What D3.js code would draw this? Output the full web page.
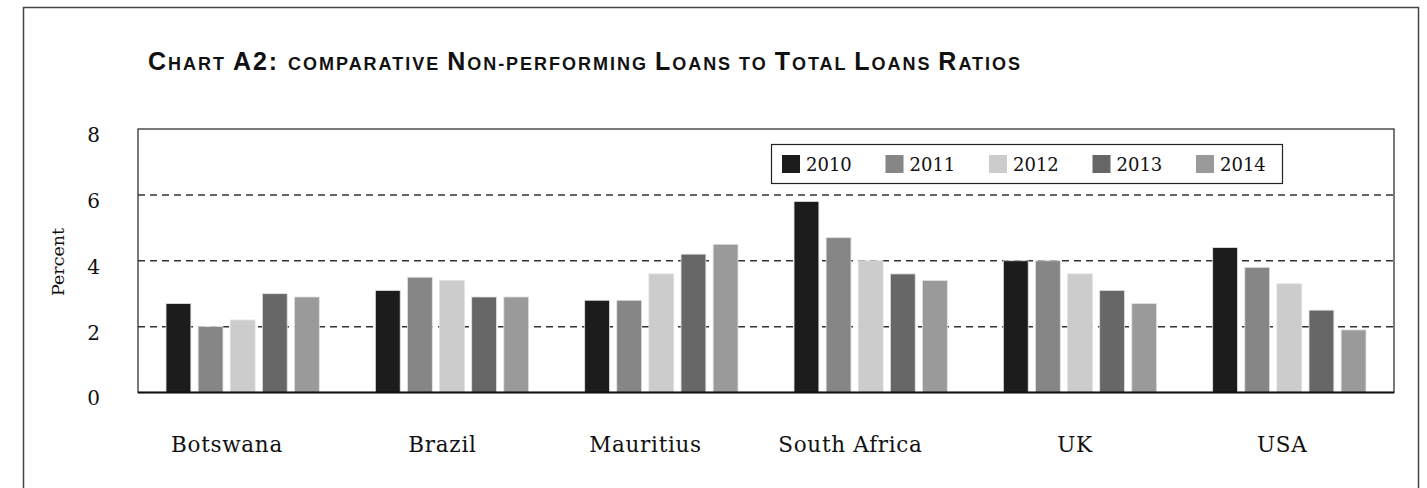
<!DOCTYPE html>
<html>
<head>
<meta charset="utf-8">
<script src="https://cdn.jsdelivr.net/npm/d3@7"></script>
<style>
  body { margin: 0; background: #fff; }
  svg { display: block; }
</style>
</head>
<body>
<svg id="chart" width="1427" height="488"></svg>
<script>
// Chart A2 data
var countries = ["Botswana", "Brazil", "Mauritius", "South Africa", "UK", "USA"];
var years = ["2010", "2011", "2012", "2013", "2014"];
var yearColors = ["#1c1c1c", "#868686", "#cccccc", "#676767", "#9a9a9a"];
var yTicks = [0, 2, 4, 6, 8];

// percent, one array per year, in country order
var v2010 = [2.7, 3.1, 2.8, 5.8, 4.0, 4.4];
var v2011 = [2.0, 3.5, 2.8, 4.7, 4.0, 3.8];
var v2012 = [2.2, 3.4, 3.6, 4.0, 3.6, 3.3];
var v2013 = [3.0, 2.9, 4.2, 3.6, 3.1, 2.5];
var v2014 = [2.9, 2.9, 4.5, 3.4, 2.7, 1.9];
var series = [v2010, v2011, v2012, v2013, v2014];

var plot = { left: 138, right: 1394, top: 129, bottom: 392.5 };

var svg = d3.select("#chart");

// outer frame
svg.append("rect")
  .attr("x", 23.5).attr("y", 7.5)
  .attr("width", 1395).attr("height", 500)
  .attr("fill", "none").attr("stroke", "#444").attr("stroke-width", 1.5);

// title, faked small caps
var titleParts = [
  ["C", 1], ["HART ", 0], ["A2: ", 1], ["COMPARATIVE ", 0],
  ["N", 1], ["ON-PERFORMING ", 0], ["L", 1], ["OANS TO ", 0],
  ["T", 1], ["OTAL ", 0], ["L", 1], ["OANS ", 0], ["R", 1], ["ATIOS", 0]
];
var title = svg.append("text")
  .attr("x", 148).attr("y", 70)
  .attr("textLength", 872).attr("lengthAdjust", "spacing")
  .style("font-family", "'Liberation Sans', Arial, sans-serif")
  .style("font-weight", "bold")
  .attr("fill", "#111");
title.selectAll("tspan").data(titleParts).enter().append("tspan")
  .attr("font-size", function(d) { return d[1] ? "25px" : "18px"; })
  .style("white-space", "pre")
  .text(function(d) { return d[0]; });

var x0 = d3.scaleBand().domain(countries).range([plot.left, plot.right]).padding(0);
var gw = x0.bandwidth();
var x1 = d3.scaleBand().domain(years)
  .range([(gw - 153.3) / 2, (gw + 153.3) / 2])
  .paddingInner(0.226).paddingOuter(0);
var y = d3.scaleLinear().domain([0, 8]).range([plot.bottom, plot.top]);

// dashed gridlines
svg.append("g").selectAll("line").data(yTicks.filter(function(t) { return t > 0 && t < 8; }))
  .enter().append("line")
  .attr("x1", plot.left).attr("x2", plot.right)
  .attr("y1", function(d) { return y(d); }).attr("y2", function(d) { return y(d); })
  .attr("stroke", "#333").attr("stroke-width", 1.5)
  .attr("stroke-dasharray", "7,5");

// bars
var groups = svg.append("g").selectAll("g").data(countries).enter().append("g")
  .attr("transform", function(d) { return "translate(" + x0(d) + ",0)"; });

groups.selectAll("rect")
  .data(function(c, ci) {
    return years.map(function(yr, yi) { return { year: yr, yi: yi, v: series[yi][ci] }; });
  })
  .enter().append("rect")
  .attr("x", function(d) { return x1(d.year); })
  .attr("y", function(d) { return y(d.v); })
  .attr("width", x1.bandwidth())
  .attr("height", function(d) { return y(0) - y(d.v); })
  .attr("fill", function(d) { return yearColors[d.yi]; })
  .attr("stroke", "#e2e2e2").attr("stroke-width", 0.8);

// plot frame
svg.append("rect")
  .attr("x", plot.left).attr("y", plot.top)
  .attr("width", plot.right - plot.left).attr("height", plot.bottom - plot.top)
  .attr("fill", "none").attr("stroke", "#222").attr("stroke-width", 1.2);
svg.append("line")
  .attr("x1", plot.left).attr("x2", plot.right)
  .attr("y1", plot.bottom).attr("y2", plot.bottom)
  .attr("stroke", "#111").attr("stroke-width", 2);

// y axis
var yAxis = svg.append("g")
  .attr("transform", "translate(" + plot.left + ",0)")
  .call(d3.axisLeft(y).tickValues(yTicks).tickSize(0).tickPadding(38));
yAxis.select(".domain").remove();
yAxis.selectAll("text")
  .attr("dy", "0.62em")
  .style("font-family", "'DejaVu Serif', serif")
  .style("font-size", "20px")
  .attr("fill", "#111");

svg.append("text")
  .attr("transform", "translate(64,262) rotate(-90)")
  .attr("text-anchor", "middle")
  .style("font-family", "'DejaVu Serif', serif")
  .style("font-size", "17.5px")
  .attr("fill", "#111")
  .text("Percent");

// category labels (original sits a bit left of centre)
svg.append("g").selectAll("text").data(countries).enter().append("text")
  .attr("y", 452)
  .style("font-family", "'DejaVu Serif', serif")
  .style("font-size", "21.5px")
  .style("letter-spacing", "0.7px")
  .attr("fill", "#111")
  .text(function(d) { return d; })
  .attr("x", function(d) {
    var w = this.getComputedTextLength();
    return x0(d) + gw / 2 - w * 0.64;
  });

// legend
var legend = svg.append("g");
legend.append("rect")
  .attr("x", 771.5).attr("y", 144.5)
  .attr("width", 511).attr("height", 39)
  .attr("fill", "#fff").attr("stroke", "#222").attr("stroke-width", 1.2);
var items = legend.selectAll("g").data(years).enter().append("g")
  .attr("transform", function(d, i) { return "translate(" + (782 + i * 103.5) + ",155)"; });
items.append("rect")
  .attr("width", 18).attr("height", 18)
  .attr("fill", function(d, i) { return yearColors[i]; });
items.append("text")
  .attr("x", 24).attr("y", 16)
  .style("font-family", "'DejaVu Serif', serif")
  .style("font-size", "18px")
  .attr("fill", "#111")
  .text(function(d) { return d; });
</script>
</body>
</html>
